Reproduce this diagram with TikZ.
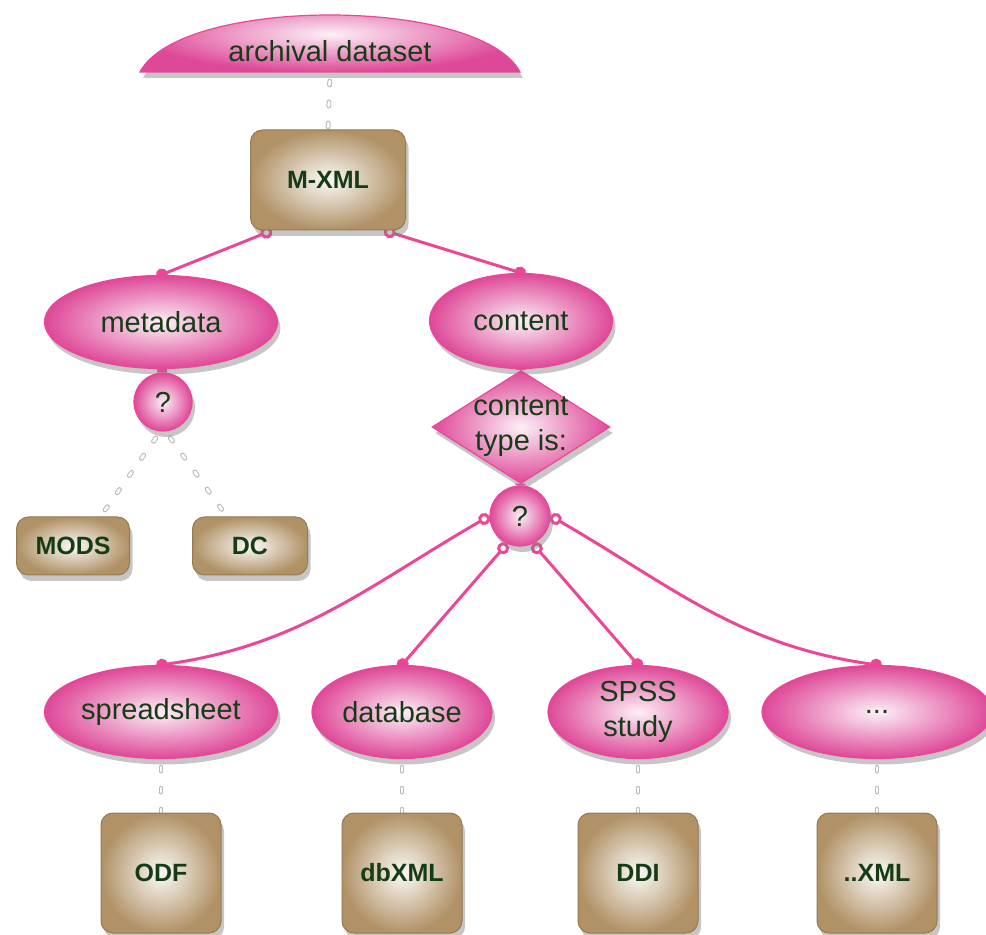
\documentclass[tikz,border=0pt]{standalone}
\usepackage{fontspec}
\setmainfont{Liberation Sans}
\usetikzlibrary{shapes.geometric,shadows,arrows.meta,backgrounds,positioning}

\definecolor{pinkfill}{RGB}{222,72,152}
\definecolor{pinkline}{RGB}{236,70,150}
\definecolor{tanfill}{RGB}{176,146,102}
\definecolor{tanline}{RGB}{150,122,80}
\definecolor{labelgreen}{RGB}{22,60,22}

\begin{document}
\begin{tikzpicture}[x=0.5pt, y=-0.5pt, >=latex]
	\tikzstyle{shade} = [drop shadow={shadow xshift=1.5pt, shadow yshift=-3pt, opacity=0.45}]
	\tikzstyle{bubble} = [ellipse, draw=pinkline, line width=0.6pt, inner color=white!92!pinkfill, outer color=pinkfill, shade, inner sep=0pt, text=labelgreen, font=\fontsize{14.5}{17.5}\selectfont, align=center]
	\tikzstyle{ask} = [bubble, circle, minimum size=29pt]
	\tikzstyle{format} = [rectangle, rounded corners=6pt, draw=tanline, line width=0.5pt, inner color=white!95!tanfill, outer color=tanfill, shade, text=labelgreen, font=\bfseries\fontsize{12.5}{15}\selectfont]
	\tikzstyle{branch} = [draw=pinkline, line width=1.5pt, {Circle[open,length=6pt,width=6pt]}-{Circle[length=6pt]}, shorten >=-2.5pt]
	\tikzstyle{neck} = [draw=pinkline, line width=5pt]
	\tikzstyle{link} = [draw=gray!55, line width=0.5pt, double=white, double distance=1.4pt, line cap=round, dash pattern=on 2pt off 8.5pt, dash phase=-4pt]

	\useasboundingbox (0,0) rectangle (986,935);

	% top: the dataset dome
	\path [inner color=white!92!pinkfill, outer color=pinkfill, draw=pinkline, line width=0.6pt, shade]
	  (140,72) .. controls (180,-4) and (480,-4) .. (520,72) -- cycle;
	\node [text=labelgreen, font=\fontsize{14.5}{17.5}\selectfont] (archival) at (330,51) {archival dataset};
	\coordinate (archbase) at (330,73);

	\node [format, minimum width=77.5pt, minimum height=50pt] (mxml) at (328,180) {M-XML};

	\node [bubble, minimum width=116.5pt, minimum height=46.5pt] (metadata) at (161,322) {metadata};
	\node [bubble, minimum width=91.5pt, minimum height=47.5pt] (content) at (521,321) {content};
	\node [ask] (q1) at (163,402) {?};
	\node [bubble, diamond, minimum width=89pt, minimum height=56.5pt,
	  label={[text=labelgreen, font=\fontsize{14.5}{17.5}\selectfont, align=center]center:content\\type is:}] (ctype) at (521,427) {};
	\node [ask, minimum size=30pt] (q2) at (520,516) {?};

	\node [format, minimum width=56.5pt, minimum height=29pt] (mods) at (73,546) {MODS};
	\node [format, minimum width=57.5pt, minimum height=29pt] (dc) at (250,546) {DC};

	% content types
	\node [bubble, minimum width=116.5pt, minimum height=46.5pt] (spreadsheet) at (161,712) {spreadsheet};
	\node [bubble, minimum width=90pt, minimum height=46.5pt, right of=spreadsheet, node distance=120.5pt] (database) {database};
	\node [bubble, minimum width=90pt, minimum height=46.5pt, right of=database, node distance=118pt] (spss) {SPSS\\study};
	\node [bubble, minimum width=115pt, minimum height=46.5pt, right of=spss, node distance=119.5pt] (etc) {...};

	\node [format, minimum size=60pt, below of=spreadsheet, node distance=80.5pt] (odf) {ODF};
	\node [format, minimum size=60pt, below of=database, node distance=80.5pt] (dbxml) {dbXML};
	\node [format, minimum size=60pt, below of=spss, node distance=80.5pt] (ddi) {DDI};
	\node [format, minimum size=60pt, below of=etc, node distance=80.5pt] (anyxml) {..XML};

	\begin{scope}[on background layer]
	\draw [link] (archbase) -- (mxml.north);
	\draw [branch] (mxml.-138) -- (metadata.north);
	\draw [branch] (mxml.-42) -- (content.north);
	\draw [neck] (metadata) -- (q1);
	\draw [neck] (content) -- (ctype);
	\draw [neck] (ctype) -- (q2);
	\draw [link] (q1.-95) -- (mods.47);
	\draw [link] (q1.-85) -- (dc.128);
	\draw [branch] (q2.west) to[out=-150, in=8] (spreadsheet.north);
	\draw [branch] (q2.-115) -- (database.north);
	\draw [branch] (q2.-65) -- (spss.north);
	\draw [branch] (q2.east) to[out=-30, in=172] (etc.north);
	\draw [link] (spreadsheet.south) -- (odf.north);
	\draw [link] (database.south) -- (dbxml.north);
	\draw [link] (spss.south) -- (ddi.north);
	\draw [link] (etc.south) -- (anyxml.north);
	\end{scope}
\end{tikzpicture}
\end{document}
